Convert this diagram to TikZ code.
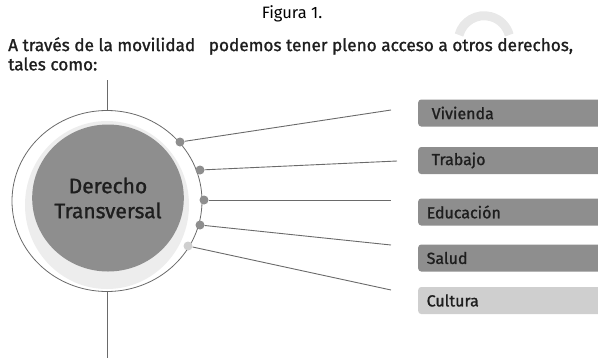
\documentclass[tikz,border=0pt]{standalone}
\usepackage{fontspec}
\setmainfont{Fira Sans}
\newfontfamily\medfont{Fira Sans}[FakeBold=1.2]
\usetikzlibrary{shapes.geometric}
\definecolor{txt}{HTML}{1E1E1E}
\definecolor{darkg}{HTML}{8E8E8E}
\definecolor{lightg}{HTML}{CFCFCF}
\definecolor{ringg}{HTML}{EDEDED}
\definecolor{lineg}{HTML}{6A6A6A}
\tikzset{
  box/.style={fill=darkg, rounded corners=3pt, minimum width=180pt, minimum height=27pt,
    text width=168pt, align=left, inner xsep=8.5pt, anchor=west, font=\medfont\fontsize{16}{18}\selectfont, text=txt},
  dotn/.style={circle, fill=darkg, inner sep=0pt, minimum size=9pt},
  conn/.style={draw=lineg, line width=0.9pt},
  headtxt/.style={font=\medfont\fontsize{17.2}{19}\selectfont, text=txt, anchor=west, inner sep=0pt},
}
\begin{document}
\begin{tikzpicture}[x=1pt,y=-1pt]
\useasboundingbox (0,0) rectangle (598,360);
% watermark arc
\draw[line width=9pt, color=ringg!85!lightg] (459,35) arc[start angle=165, end angle=15, radius=26pt];
% texts
\node[font=\fontsize{16.5}{18}\selectfont, text=black] (title) at (292,14) {Figura 1.};
\node[headtxt] (head1) at (8,46) {A través de la movilidad\hspace{9pt} podemos tener pleno acceso a otros derechos,};
\node[headtxt] (head2) at (8,64) {tales como:};
% circle
\node[ellipse, draw=lineg, line width=0.8pt, fill=white, minimum width=190pt, minimum height=181pt, inner sep=0pt] (outer) at (107,201) {};
\node[ellipse, fill=ringg, minimum width=164pt, minimum height=168pt, inner sep=0pt] (ring) at (107,205) {};
\node[ellipse, fill=darkg, minimum width=141pt, minimum height=147pt, inner sep=0pt, align=center,
  font=\medfont\fontsize{21}{25}\selectfont, text=txt] (core) at (108,198) {Derecho\\Transversal};
\coordinate (vt) at (107,80);
\coordinate (vb) at (107,358);
\draw[conn] (vt) -- (outer.north);
\draw[conn] (outer.south) -- (vb);
% dots
\node[dotn] (d1) at (180,142) {};
\node[dotn] (d2) at (200,170) {};
\node[dotn] (d3) at (204,200) {};
\node[dotn] (d4) at (200,225) {};
\node[dotn, fill=lightg] (d5) at (188,246) {};
% end points
\coordinate (e1) at (391,110);
\coordinate (e2) at (397,161);
\coordinate (e3) at (391,200);
\coordinate (e4) at (391,245);
\coordinate (e5) at (391,290);
\draw[conn] (d1) -- (e1);
\draw[conn] (d2) -- (e2);
\draw[conn] (d3) -- (e3);
\draw[conn] (d4) -- (e4);
\draw[conn] (d5) -- (e5);
% boxes
\node[box] (b1) at (418,113) {\hspace{5pt}Vivienda};
\node[box] (b2) at (418,160.5) {\hspace{5pt}Trabajo};
\node[box] (b3) at (418,212) {Educación};
\node[box] (b4) at (418,258) {Salud};
\node[box, fill=lightg] (b5) at (418,300.5) {Cultura};
\end{tikzpicture}
\end{document}
